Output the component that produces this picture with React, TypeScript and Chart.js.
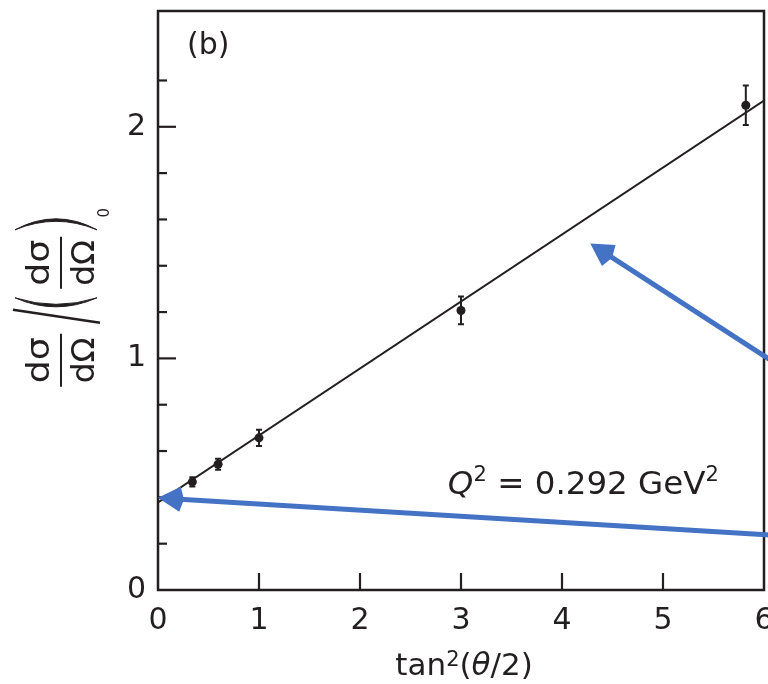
import React, { useEffect, useRef } from "react";
import { Chart, registerables } from "chart.js";

Chart.register(...registerables);

// ---- data ----
const TAN2_THETA = [0.34, 0.595, 1.0, 3.0, 5.82];
const RATIO = [0.467, 0.543, 0.657, 1.207, 2.093];
const RATIO_ERR = [0.02, 0.024, 0.035, 0.06, 0.085];
const FIT_X = [0, 6];
const FIT_Y = [0.378, 2.113];
const X_MIN = 0;
const X_MAX = 6;
const Y_MIN = 0;
const Y_MAX = 2.5;
const X_TICK_STEP = 1;
const Y_TICK_STEP = 0.2;
// arrows (tail -> tip) in data coordinates
const ARROW_TAIL_X = [6.1, 6.1];
const ARROW_TAIL_Y = [0.983, 0.236];
const ARROW_TIP_X = [4.28, 0];
const ARROW_TIP_Y = [1.496, 0.398];

const PANEL_LABEL = "(b)";
const Q2_VALUE = "0.292";

const INK = "#231f20";
const BLUE = "#4472C4";
const FAMILY = "'DejaVu Sans', sans-serif";

type Run = { t: string; italic?: boolean; sup?: boolean };

function drawRuns(
  ctx: CanvasRenderingContext2D,
  runs: Run[],
  x: number,
  y: number,
  size: number,
  supSize: number,
  raise: number
) {
  let cx = x;
  ctx.textAlign = "left";
  ctx.textBaseline = "alphabetic";
  for (const r of runs) {
    const s = r.sup ? supSize : size;
    ctx.font = `${r.italic ? "italic " : ""}${s}px ${FAMILY}`;
    ctx.fillText(r.t, cx, r.sup ? y - raise : y);
    cx += ctx.measureText(r.t).width;
  }
}

function drawFitted(
  ctx: CanvasRenderingContext2D,
  text: string,
  cu: number,
  baseV: number,
  target: number,
  size: number
) {
  ctx.save();
  ctx.font = `${size}px ${FAMILY}`;
  const w = ctx.measureText(text).width;
  const sc = target / w;
  ctx.translate(cu, baseV);
  ctx.scale(sc, 1);
  ctx.textAlign = "center";
  ctx.textBaseline = "alphabetic";
  ctx.fillText(text, 0, 0);
  ctx.restore();
}

function drawParen(ctx: CanvasRenderingContext2D, endU: number, outerC: number, innerC: number) {
  ctx.beginPath();
  ctx.moveTo(endU, -46);
  ctx.quadraticCurveTo(outerC, -5, endU, 36);
  ctx.quadraticCurveTo(innerC, -5, endU, -46);
  ctx.closePath();
  ctx.fill();
  ctx.lineWidth = 1;
  ctx.stroke();
}

function drawArrow(ctx: CanvasRenderingContext2D, x1: number, y1: number, x2: number, y2: number) {
  const ang = Math.atan2(y2 - y1, x2 - x1);
  const c = Math.cos(ang);
  const s = Math.sin(ang);
  const headLen = 26;
  const headHalf = 12.5;
  const bx = x2 - headLen * c;
  const by = y2 - headLen * s;
  ctx.save();
  ctx.strokeStyle = BLUE;
  ctx.fillStyle = BLUE;
  ctx.lineWidth = 5;
  ctx.lineCap = "butt";
  ctx.beginPath();
  ctx.moveTo(x1, y1);
  ctx.lineTo(bx + 4 * c, by + 4 * s);
  ctx.stroke();
  ctx.beginPath();
  ctx.moveTo(x2, y2);
  ctx.lineTo(bx - headHalf * s + 4 * c, by + headHalf * c + 4 * s);
  ctx.lineTo(bx, by);
  ctx.lineTo(bx + headHalf * s + 4 * c, by - headHalf * c + 4 * s);
  ctx.closePath();
  ctx.fill();
  ctx.restore();
}

const decorPlugin = {
  id: "decor",
  afterDatasetsDraw(chart: any) {
    const ctx: CanvasRenderingContext2D = chart.ctx;
    const xs = chart.scales.x;
    const ys = chart.scales.y;
    ctx.save();
    ctx.strokeStyle = INK;
    ctx.lineWidth = 2;
    for (let i = 0; i < TAN2_THETA.length; i++) {
      const x = xs.getPixelForValue(TAN2_THETA[i]);
      const yTop = ys.getPixelForValue(RATIO[i] + RATIO_ERR[i]);
      const yBot = ys.getPixelForValue(RATIO[i] - RATIO_ERR[i]);
      ctx.beginPath();
      ctx.moveTo(x, yTop);
      ctx.lineTo(x, yBot);
      ctx.moveTo(x - 3, yTop);
      ctx.lineTo(x + 3, yTop);
      ctx.moveTo(x - 3, yBot);
      ctx.lineTo(x + 3, yBot);
      ctx.stroke();
    }
    ctx.restore();
  },
  afterDraw(chart: any) {
    const ctx: CanvasRenderingContext2D = chart.ctx;
    const xs = chart.scales.x;
    const ys = chart.scales.y;
    const a = chart.chartArea;
    ctx.save();
    ctx.strokeStyle = INK;
    ctx.fillStyle = INK;

    // inward ticks
    ctx.lineWidth = 2.2;
    for (const t of ys.ticks) {
      const v = t.value;
      if (v <= Y_MIN + 1e-6 || v >= Y_MAX - 1e-6) continue;
      const major = Math.abs(v - Math.round(v)) < 1e-6;
      const len = major ? 18 : 9;
      const y = ys.getPixelForValue(v);
      ctx.beginPath();
      ctx.moveTo(a.left, y);
      ctx.lineTo(a.left + len, y);
      ctx.stroke();
    }
    for (const t of xs.ticks) {
      const v = t.value;
      if (v <= X_MIN + 1e-6 || v >= X_MAX - 1e-6) continue;
      const x = xs.getPixelForValue(v);
      ctx.beginPath();
      ctx.moveTo(x, a.bottom);
      ctx.lineTo(x, a.bottom - 17);
      ctx.stroke();
    }

    // frame
    ctx.lineWidth = 2.5;
    ctx.strokeRect(a.left, a.top, a.right - a.left, a.bottom - a.top);

    // panel label
    ctx.font = `30px ${FAMILY}`;
    ctx.textAlign = "left";
    ctx.textBaseline = "alphabetic";
    ctx.fillText(PANEL_LABEL, xs.getPixelForValue(0.287), ys.getPixelForValue(2.313));

    // Q^2 annotation
    drawRuns(
      ctx,
      [
        { t: "Q", italic: true },
        { t: "2", sup: true },
        { t: " = " + Q2_VALUE + " GeV" },
        { t: "2", sup: true },
      ],
      xs.getPixelForValue(2.87),
      ys.getPixelForValue(0.413),
      32.5,
      21,
      13
    );

    // x title
    drawRuns(
      ctx,
      [
        { t: "tan" },
        { t: "2", sup: true },
        { t: "(" },
        { t: "θ", italic: true },
        { t: "/2)" },
      ],
      xs.getPixelForValue(2.35),
      a.bottom + 85,
      31,
      21,
      9
    );

    // y title (rotated)
    ctx.save();
    ctx.translate(a.left - 97, ys.getPixelForValue(0.86));
    ctx.rotate(-Math.PI / 2);
    ctx.lineWidth = 2;
    // first fraction
    ctx.beginPath();
    ctx.moveTo(4, 0);
    ctx.lineTo(57, 0);
    ctx.stroke();
    drawFitted(ctx, "dσ", 30.5, -12.5, 46, 32);
    drawFitted(ctx, "dΩ", 30.5, 33, 46, 32);
    // slash
    ctx.lineWidth = 2.5;
    ctx.beginPath();
    ctx.moveTo(68, 39);
    ctx.lineTo(81, -48);
    ctx.stroke();
    // left big paren
    drawParen(ctx, 93, 75, 80);
    // inner fraction
    ctx.lineWidth = 2;
    ctx.beginPath();
    ctx.moveTo(102, 0);
    ctx.lineTo(154, 0);
    ctx.stroke();
    drawFitted(ctx, "dσ", 128, -12.5, 46, 32);
    drawFitted(ctx, "dΩ", 128, 33, 46, 32);
    // right big paren
    drawParen(ctx, 161, 183, 178);
    // subscript 0
    ctx.font = `15px ${FAMILY}`;
    ctx.textAlign = "center";
    ctx.textBaseline = "middle";
    ctx.fillText("0", 178, 44);
    ctx.restore();

    // blue arrows
    for (let i = 0; i < ARROW_TIP_X.length; i++) {
      drawArrow(
        ctx,
        xs.getPixelForValue(ARROW_TAIL_X[i]),
        ys.getPixelForValue(ARROW_TAIL_Y[i]),
        xs.getPixelForValue(ARROW_TIP_X[i]),
        ys.getPixelForValue(ARROW_TIP_Y[i])
      );
    }
    ctx.restore();
  },
};

export default function App() {
  const ref = useRef<HTMLCanvasElement>(null);
  useEffect(() => {
    if (!ref.current) return;
    const chart = new Chart(ref.current, {
      type: "scatter",
      data: {
        datasets: [
          {
            label: "fit",
            data: FIT_X.map((x, i) => ({ x, y: FIT_Y[i] })),
            showLine: true,
            borderColor: INK,
            borderWidth: 2,
            pointRadius: 0,
            fill: false,
          },
          {
            label: "data",
            data: TAN2_THETA.map((x, i) => ({ x, y: RATIO[i] })),
            pointRadius: 4.5,
            pointBackgroundColor: INK,
            pointBorderWidth: 0,
          },
        ],
      },
      options: {
        animation: false,
        responsive: false,
        devicePixelRatio: 1,
        layout: { padding: { left: 0, top: 31, right: 26, bottom: 0 } },
        plugins: { legend: { display: false }, tooltip: { enabled: false } },
        scales: {
          x: {
            type: "linear",
            min: X_MIN,
            max: X_MAX,
            afterFit: (s: any) => {
              s.height = 94;
            },
            grid: { display: false, drawTicks: false },
            border: { display: false },
            ticks: {
              stepSize: X_TICK_STEP,
              autoSkip: false,
              maxRotation: 0,
              padding: 13,
              color: INK,
              font: { family: FAMILY, size: 30 },
            },
          },
          y: {
            type: "linear",
            min: Y_MIN,
            max: Y_MAX,
            afterFit: (s: any) => {
              s.width = 158;
            },
            grid: { display: false, drawTicks: false },
            border: { display: false },
            ticks: {
              stepSize: Y_TICK_STEP,
              autoSkip: false,
              padding: 12,
              color: INK,
              font: { family: FAMILY, size: 30 },
              callback: (v: any) => {
                const n = Number(v);
                return Math.abs(n - Math.round(n)) < 1e-6 ? String(Math.round(n)) : "";
              },
            },
          },
        },
      },
      plugins: [decorPlugin],
    } as any);
    return () => chart.destroy();
  }, []);
  return (
    <div
      style={{
        position: "fixed",
        left: 0,
        top: 0,
        width: 768,
        height: 684,
        overflow: "hidden",
        background: "#fff",
      }}
    >
      <canvas
        ref={ref}
        width={790}
        height={704}
        style={{ position: "absolute", left: 0, top: -20, width: 790, height: 704 }}
      />
    </div>
  );
}
